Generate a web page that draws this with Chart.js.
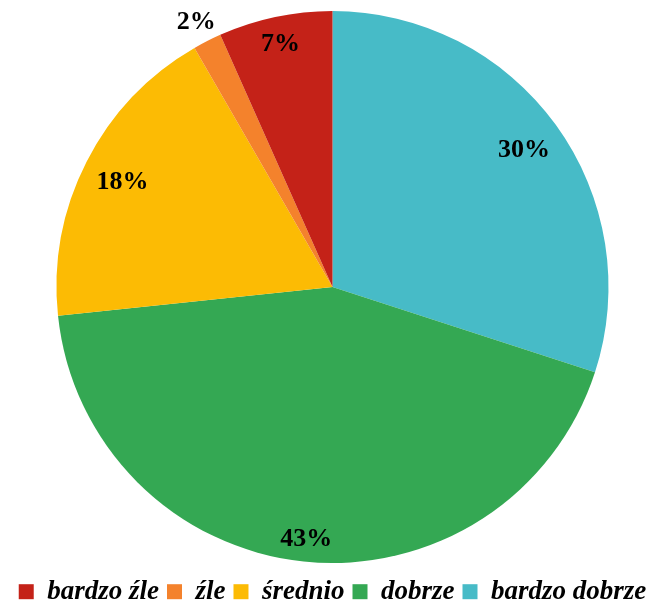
<!DOCTYPE html>
<html>
<head>
<meta charset="utf-8">
<script src="https://cdn.jsdelivr.net/npm/chart.js@4/dist/chart.umd.min.js"></script>
<style>
    html, body { margin: 0; padding: 0; background: #ffffff; }
    #wrap { width: 657px; height: 602px; }
</style>
</head>
<body>
<div id="wrap"><canvas id="pieChart" width="657" height="602"></canvas></div>
<script>
// Legend order (as in the picture)
const categories = ['bardzo źle', 'źle', 'średnio', 'dobrze', 'bardzo dobrze'];
const counts = [4, 1, 11, 26, 18];
const colors = ['#C42218', '#F4822C', '#FCBB04', '#34A853', '#47BBC7'];

// Slices run clockwise from the top starting with the last category
const drawLabels = categories.slice().reverse();
const drawCounts = counts.slice().reverse();
const drawColors = colors.slice().reverse();

const serif = '"Liberation Serif", "Times New Roman", serif';

// Percent labels, Excel "best fit" style
const pieLabels = {
    id: 'pieLabels',
    afterDatasetsDraw(chart) {
        const ctx = chart.ctx;
        const meta = chart.getDatasetMeta(0);
        const values = chart.data.datasets[0].data;
        const total = values.reduce((a, b) => a + b, 0);
        ctx.save();
        ctx.font = 'bold 26px ' + serif;
        ctx.fillStyle = '#000000';
        ctx.textAlign = 'center';
        ctx.textBaseline = 'middle';
        meta.data.forEach((arc, i) => {
            const pct = Math.round(values[i] / total * 100);
            const text = pct + '%';
            const mid = (arc.startAngle + arc.endAngle) / 2;
            const cos = Math.cos(mid), sin = Math.sin(mid);
            const w = ctx.measureText(text).width;
            const h = 18;
            const extent = (w / 2) * Math.abs(cos) + (h / 2) * Math.abs(sin);
            let dist;
            if (pct < 5) {
                dist = arc.outerRadius + 7 + extent;
            } else {
                dist = arc.outerRadius - 13 - extent;
            }
            ctx.fillText(text, arc.x + cos * dist, arc.y + sin * dist + 2);
        });
        ctx.restore();
    }
};

new Chart(document.getElementById('pieChart').getContext('2d'), {
    type: 'pie',
    data: {
        labels: drawLabels,
        datasets: [{
            data: drawCounts,
            backgroundColor: drawColors,
            borderWidth: 0
        }]
    },
    options: {
        responsive: false,
        animation: false,
        layout: {
            padding: { top: 11, left: 8, right: 0, bottom: 0 }
        },
        plugins: {
            tooltip: { enabled: false },
            legend: {
                position: 'bottom',
                reverse: true,
                maxHeight: 39,
                // empty title only pushes the row down a little
                title: {
                    display: true,
                    text: ' ',
                    padding: 0,
                    font: { size: 6 }
                },
                labels: {
                    boxWidth: 15,
                    boxHeight: 15,
                    padding: 8,
                    color: '#000000',
                    font: { family: serif, size: 27, weight: 'bold', style: 'italic' }
                }
            }
        }
    },
    plugins: [pieLabels]
});
</script>
</body>
</html>
